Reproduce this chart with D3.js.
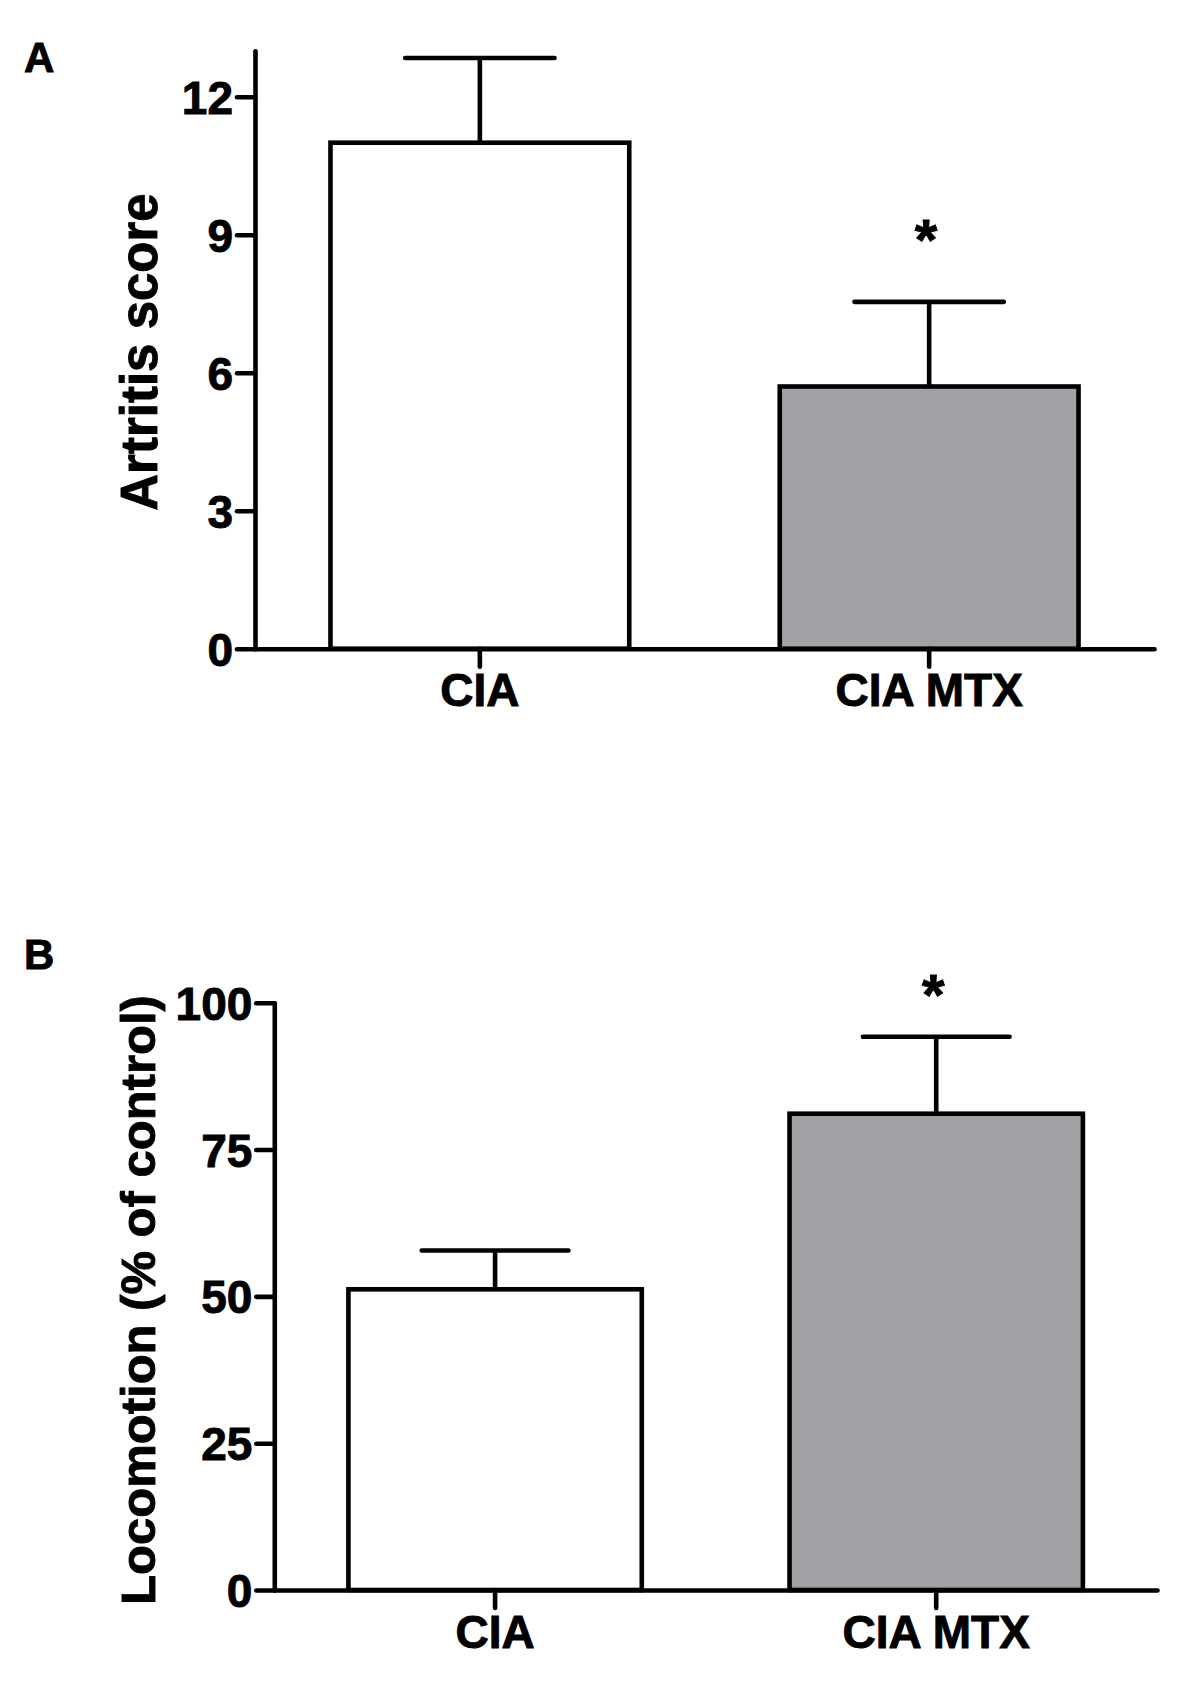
<!DOCTYPE html>
<html>
<head>
<meta charset="utf-8">
<script src="https://cdn.jsdelivr.net/npm/d3@7"></script>
<style>
  html, body { margin: 0; padding: 0; background: #fff; }
  svg { display: block; }
  text { font-family: "Liberation Sans", Arial, Helvetica, sans-serif; font-weight: bold; fill: #000; stroke: #000; stroke-width: 0.9px; }
</style>
</head>
<body>
<svg id="chart" width="1200" height="1688"></svg>
<script>
// ---- data ----
const categories = ["CIA", "CIA MTX"];
const artritisMean = [11.0, 5.7];
const artritisSEM = [1.84, 1.84];
const artritisTicks = [0, 3, 6, 9, 12];
const artritisMax = 13;

const locomotionMean = [51.2, 81.1];
const locomotionSEM = [6.6, 13.1];
const locomotionTicks = [0, 25, 50, 75, 100];
const locomotionMax = 100;

const barFills = ["#ffffff", "#a2a2a6"];
const significant = [false, true];

// ---- drawing ----
const svg = d3.select("#chart");
const SW = 4.6;

function panel(opts) {
  const g = svg.append("g");
  const x = d3.scaleBand().domain(categories)
    .range([opts.x0, opts.x1]).paddingInner(0.335).paddingOuter(0.168);
  const y = d3.scaleLinear().domain([0, opts.max]).range([opts.y0, opts.y1]);

  // bars
  g.selectAll("rect.bar").data(categories).join("rect")
    .attr("class", "bar")
    .attr("x", d => x(d))
    .attr("width", x.bandwidth())
    .attr("y", (d, i) => y(opts.mean[i]))
    .attr("height", (d, i) => y(0) - y(opts.mean[i]))
    .attr("fill", (d, i) => barFills[i])
    .attr("stroke", "#000").attr("stroke-width", SW);

  // error bars (upper only)
  const cx = d => x(d) + x.bandwidth() / 2;
  g.selectAll("line.stem").data(categories).join("line")
    .attr("x1", cx).attr("x2", cx)
    .attr("y1", (d, i) => y(opts.mean[i]))
    .attr("y2", (d, i) => y(opts.mean[i] + opts.sem[i]))
    .attr("stroke", "#000").attr("stroke-width", SW);
  g.selectAll("line.cap").data(categories).join("line")
    .attr("x1", d => cx(d) - x.bandwidth() / 4)
    .attr("x2", d => cx(d) + x.bandwidth() / 4)
    .attr("y1", (d, i) => y(opts.mean[i] + opts.sem[i]))
    .attr("y2", (d, i) => y(opts.mean[i] + opts.sem[i]))
    .attr("stroke", "#000").attr("stroke-width", SW).attr("stroke-linecap", "round");

  // significance stars
  g.selectAll("text.star").data(categories.filter((d, i) => significant[i])).join("text")
    .attr("class", "star")
    .attr("x", d => cx(d) - 3)
    .attr("y", d => y(opts.mean[categories.indexOf(d)] + opts.sem[categories.indexOf(d)]) + opts.starOffset)
    .attr("text-anchor", "middle")
    .attr("font-size", 58)
    .text("*");

  // y axis
  const ya = g.append("g").attr("transform", `translate(${opts.x0},0)`)
    .call(d3.axisLeft(y).tickValues(opts.ticks).tickSize(18).tickSizeOuter(0).tickPadding(4));
  ya.selectAll("path, line").attr("stroke", "#000").attr("stroke-width", SW).attr("stroke-linecap", "round");
  ya.selectAll("text").attr("font-size", 46).attr("dy", "0.36em").attr("fill", "#000")
    .attr("font-family", null);

  // x axis
  const xa = g.append("g").attr("transform", `translate(0,${opts.y0})`)
    .call(d3.axisBottom(x).tickSize(18).tickSizeOuter(0).tickPadding(7));
  xa.selectAll("path, line").attr("stroke", "#000").attr("stroke-width", SW).attr("stroke-linecap", "round");
  xa.selectAll("text").attr("font-size", 46).attr("fill", "#000").attr("font-family", null);
  ya.select(".domain").raise();

  // axis title
  g.append("text")
    .attr("transform", `translate(${opts.titleX},${opts.titleY}) rotate(-90)`)
    .attr("text-anchor", "middle")
    .attr("font-size", opts.titleSize)
    .text(opts.title);

  // panel letter
  g.append("text").attr("x", 24).attr("y", opts.letterY)
    .attr("font-size", 42).text(opts.letter);
}

panel({
  x0: 255, x1: 1154, y0: 648.7, y1: 50.7, max: artritisMax,
  mean: artritisMean, sem: artritisSEM, ticks: artritisTicks,
  title: "Artritis score", titleX: 157, titleY: 352, titleSize: 51,
  letter: "A", letterY: 72, starOffset: -42
});

panel({
  x0: 274.3, x1: 1157, y0: 1590, y1: 1002.7, max: locomotionMax,
  mean: locomotionMean, sem: locomotionSEM, ticks: locomotionTicks,
  title: "Locomotion (% of control)", titleX: 155, titleY: 1300, titleSize: 49,
  letter: "B", letterY: 969, starOffset: -22
});
</script>
</body>
</html>
